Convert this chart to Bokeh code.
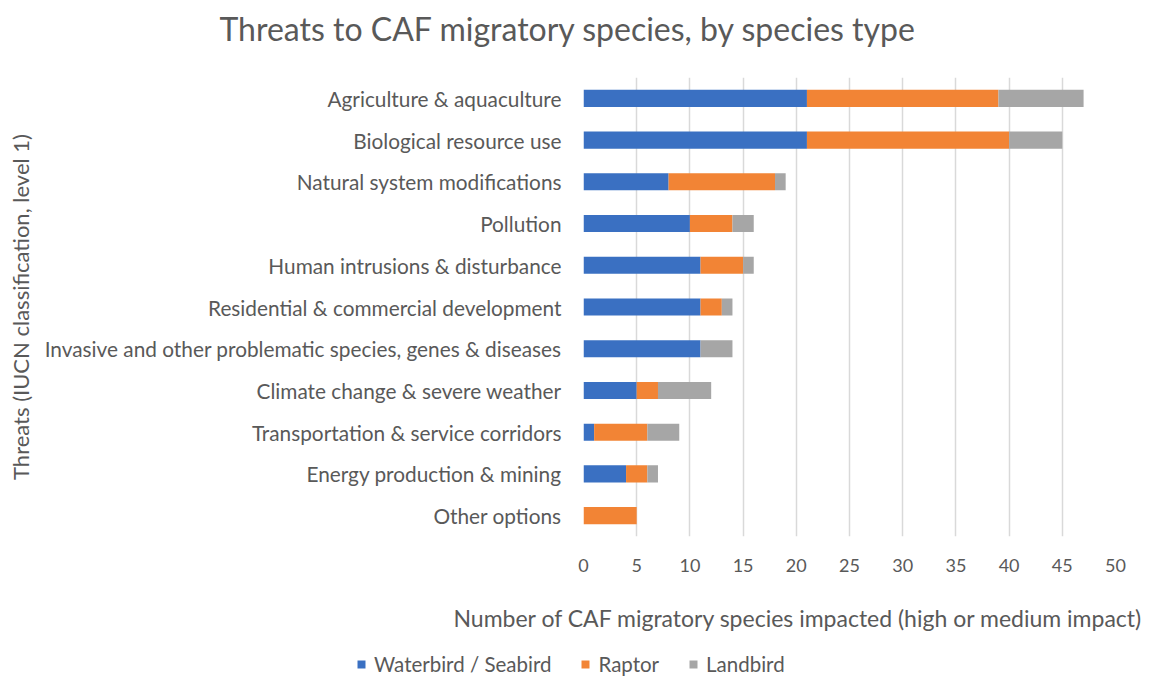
from bokeh.plotting import figure
from bokeh.models import ColumnDataSource, FactorRange, Range1d, Legend, SingleIntervalTicker, Label
from bokeh.layouts import column
from bokeh.embed import file_html
from bokeh.resources import INLINE

categories = [
    "Agriculture & aquaculture",
    "Biological resource use",
    "Natural system modifications",
    "Pollution",
    "Human intrusions & disturbance",
    "Residential & commercial development",
    "Invasive and other problematic species, genes & diseases",
    "Climate change & severe weather",
    "Transportation & service corridors",
    "Energy production & mining",
    "Other options",
]
waterbird = [21, 21, 8, 10, 11, 11, 11, 5, 1, 4, 0]
raptor = [18, 19, 10, 4, 4, 2, 0, 2, 5, 2, 5]
landbird = [8, 5, 1, 2, 1, 1, 3, 5, 3, 1, 0]
series_names = ["Waterbird / Seabird", "Raptor", "Landbird"]
series_keys = ["waterbird", "raptor", "landbird"]
colors = ["#3A70C2", "#F28435", "#A6A6A6"]

title_text = "Threats to CAF migratory species, by species type"
x_title = "Number of CAF migratory species impacted (high or medium impact)"
y_title = "Threats (IUCN classification, level 1)"

FONT = "Lato"
TXT = "#595959"

source = ColumnDataSource(dict(cat=categories, waterbird=waterbird, raptor=raptor, landbird=landbird))

W, H = 1150, 677
TOP_H = 56
BOT_H = 87
MAIN_H = H - TOP_H - BOT_H
FL, FR, FT, FB = 583, 1115, 77, 536


def strip(height, x_range, y_range):
    s = figure(width=W, height=height, output_backend="svg", toolbar_location=None,
               min_border=0, min_border_left=0, min_border_right=0, min_border_top=0,
               min_border_bottom=0, x_range=x_range, y_range=y_range)
    s.frame_align = False
    s.axis.visible = False
    s.grid.visible = False
    s.outline_line_color = None
    s.border_fill_color = "white"
    s.background_fill_color = "white"
    return s


# ---- title strip
t = strip(TOP_H, Range1d(0, 1), Range1d(0, 1))
t.add_layout(Label(x=219, y=TOP_H - 28, x_units="screen", y_units="screen", text=title_text,
                   text_align="left", text_baseline="middle", text_font=FONT,
                   text_font_size="32px", text_color=TXT))

# ---- main chart
p = figure(width=W, height=MAIN_H, output_backend="svg", toolbar_location=None,
           y_range=FactorRange(factors=list(reversed(categories)), range_padding=0),
           x_range=Range1d(0, 50),
           min_border_left=FL, min_border_right=W - FR, min_border_top=FT - TOP_H,
           min_border_bottom=MAIN_H - (FB - TOP_H))
p.frame_align = False
p.outline_line_color = None
p.background_fill_color = "white"
p.border_fill_color = "white"

p.hbar_stack(series_keys, y="cat", height=0.41, color=colors, line_color=None, source=source)

p.xaxis.ticker = SingleIntervalTicker(interval=5)
p.xaxis.axis_line_color = None
p.xaxis.major_tick_line_color = None
p.xaxis.minor_tick_line_color = None
p.xaxis.major_label_standoff = 16
p.xaxis.major_label_text_font = FONT
p.xaxis.major_label_text_font_size = "18px"
p.xaxis.major_label_text_color = TXT

p.yaxis.axis_line_color = None
p.yaxis.major_tick_line_color = None
p.yaxis.minor_tick_line_color = None
p.yaxis.major_label_standoff = 16
p.yaxis.major_label_text_font = FONT
p.yaxis.major_label_text_font_size = "20.8px"
p.yaxis.major_label_text_color = TXT
p.yaxis.axis_label = y_title
p.yaxis.axis_label_standoff = 8
p.yaxis.axis_label_text_font = FONT
p.yaxis.axis_label_text_font_size = "22px"
p.yaxis.axis_label_text_font_style = "normal"
p.yaxis.axis_label_text_color = TXT

p.ygrid.grid_line_color = None
p.xgrid.grid_line_color = "#D9D9D9"
p.xgrid.grid_line_width = 1.5

# ---- bottom strip: x-axis title + legend (same data, drawn off-range so only the legend shows)
q = strip(BOT_H, Range1d(-2, -1), FactorRange(factors=list(reversed(categories))))
q.add_layout(Label(x=453, y=H - 617, x_units="screen", y_units="screen", text=x_title,
                   text_align="left", text_baseline="middle", text_font=FONT,
                   text_font_size="23px", text_color=TXT))
leg_renderers = q.hbar_stack(series_keys, y="cat", height=0.41, color=colors, line_color=None,
                             source=source)
legend = Legend(items=[(n, [r]) for n, r in zip(series_names, leg_renderers)],
                orientation="horizontal", location=(356, 1),
                glyph_width=10, glyph_height=10, label_standoff=8, spacing=29,
                padding=0, margin=0, border_line_color=None, background_fill_alpha=0,
                label_text_font=FONT, label_text_font_size="20.5px", label_text_color=TXT)
q.add_layout(legend)

open("out.html", "w").write(file_html(column(t, p, q, spacing=0), INLINE))
